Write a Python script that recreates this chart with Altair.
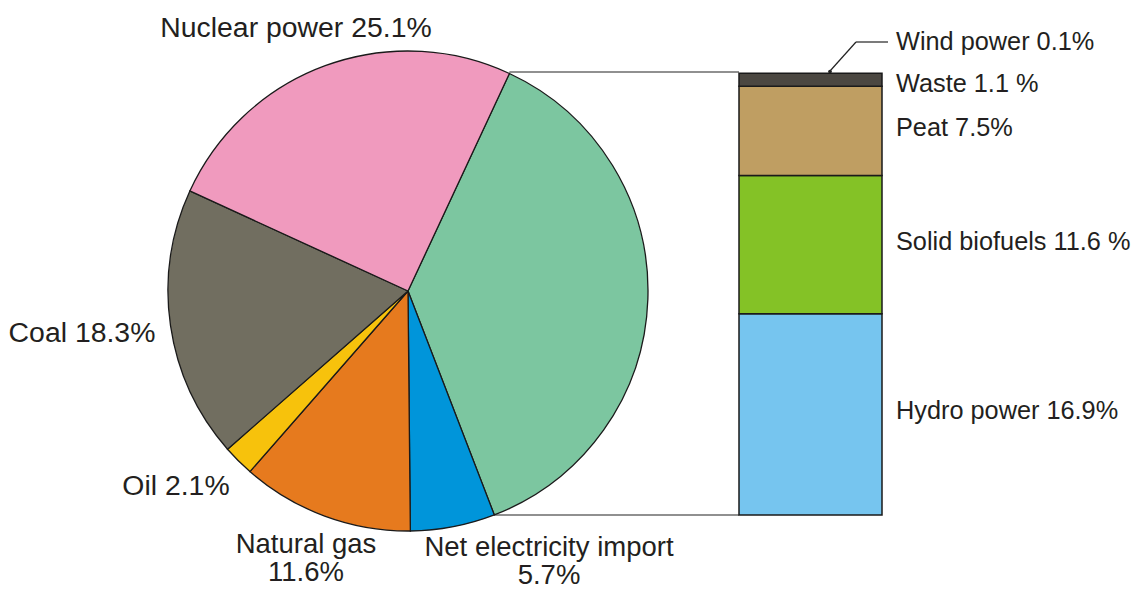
import math
import altair as alt
import pandas as pd

# ---------------- data ----------------
pie_sources = ["Renewables", "Net electricity import", "Natural gas", "Oil", "Coal", "Nuclear power"]
bar_sources = ["Hydro power", "Solid biofuels", "Peat", "Waste", "Wind power"]
bar_values = [16.9, 11.6, 7.5, 1.1, 0.1]
other_values = [5.7, 11.6, 2.1, 18.3, 25.1]
pie_values = [round(sum(bar_values), 1)] + other_values

pie_colors = ["#7CC6A0", "#0095DA", "#E67A1E", "#F7C20C", "#716E60", "#F09ABE"]
bar_colors = ["#76C5EF", "#84C226", "#BF9E62", "#4B4741", "#222222"]

# ---------------- layout ----------------
CX, CY, R = 400, 283, 240          # pie centre / radius (canvas px)
START = math.radians(25)           # start angle of first slice
BAR_X0, BAR_X1 = 731, 874
BAR_TOP, BAR_BOT = 64, 507
FONT = "Liberation Sans"
FS_PIE = 28.4
FS_LOW = 27.5
FS_BAR = 25.3
LAB_X = 888
TXT = "#231F20"

total = sum(pie_values)
ren = pie_values[0]

pie_df = pd.DataFrame({"source": pie_sources, "value": pie_values, "order": list(range(len(pie_sources)))})

cum = [0.0]
for v in bar_values:
    cum.append(cum[-1] + v)
bar_df = pd.DataFrame({
    "source": bar_sources,
    "value": bar_values,
    "y0": cum[:-1],
    "y1": cum[1:],
})
bar_df["mid"] = (bar_df["y0"] + bar_df["y1"]) / 2
bar_df["label"] = ["Hydro power 16.9%", "Solid biofuels 11.6 %", "Peat 7.5%", "Waste 1.1 %", "Wind power 0.1%"]

color_scale = alt.Scale(domain=pie_sources + bar_sources, range=pie_colors + bar_colors)
y_scale = alt.Scale(domain=[0, ren], range=[BAR_BOT, BAR_TOP], zero=False, nice=False)

pie = alt.Chart(pie_df).mark_arc(outerRadius=R, stroke="#1A1A1A", strokeWidth=1.3).encode(
    theta=alt.Theta("value:Q", stack=True, scale=alt.Scale(domain=[0, total], range=[START, START + 2 * math.pi])),
    color=alt.Color("source:N", scale=color_scale, legend=None),
    order=alt.Order("order:Q"),
    x=alt.value(CX),
    y=alt.value(CY),
)

bar = alt.Chart(bar_df[bar_df["source"] != "Wind power"]).mark_rect(stroke="#1A1A1A", strokeWidth=1.5).encode(
    y=alt.Y("y0:Q", scale=y_scale, axis=None),
    y2="y1:Q",
    x=alt.value(BAR_X0),
    x2=alt.value(BAR_X1),
    color=alt.Color("source:N", scale=color_scale, legend=None),
)

# connector lines from pie wedge edges to the bar
ang_top = START
ang_bot = START + 2 * math.pi * ren / total
x_top = CX + R * math.sin(ang_top)
x_bot = CX + R * math.sin(ang_bot)
conn_df = pd.DataFrame({"yv": [ren, 0.0], "xs": [x_top, x_bot]})
conn = alt.Chart(conn_df).mark_rule(color="#222", strokeWidth=1.2).encode(
    y=alt.Y("yv:Q", scale=y_scale, axis=None),
    x=alt.X("xs:Q", scale=None),
    x2=alt.value(BAR_X0),
)

# bar labels (except wind)
lab_df = bar_df[bar_df["source"].isin(["Hydro power", "Solid biofuels", "Peat"])]
bar_labels = alt.Chart(lab_df).mark_text(align="left", baseline="middle", font=FONT, fontSize=FS_BAR, color=TXT, dy=-3).encode(
    y=alt.Y("mid:Q", scale=y_scale, axis=None), x=alt.value(LAB_X), text="label:N")
waste_label = alt.Chart(bar_df[bar_df["source"] == "Waste"]).mark_text(align="left", baseline="middle", font=FONT, fontSize=FS_BAR, color=TXT, dy=4).encode(
    y=alt.Y("mid:Q", scale=y_scale, axis=None), x=alt.value(LAB_X), text="label:N")

one = pd.DataFrame({"a": [0]})

def label(text, x, y, align="center", fs=FS_PIE):
    return alt.Chart(one).mark_text(align=align, baseline="middle", font=FONT, fontSize=fs, color=TXT).encode(
        x=alt.value(x), y=alt.value(y), text=alt.value(text))

wind_label = label("Wind power 0.1%", LAB_X, 34, align="left", fs=FS_BAR)
lead_df = pd.DataFrame({"x1": [822, 848], "y1": [63, 34], "x2": [848, 880], "y2": [34, 34]})
wind_lead = alt.Chart(lead_df).mark_rule(color="#222", strokeWidth=1.2).encode(
    x=alt.X("x1:Q", scale=None), y=alt.Y("y1:Q", scale=None),
    x2="x2:Q", y2="y2:Q")
wind_dot = alt.Chart(one).mark_circle(color="#222", size=14, opacity=1).encode(
    x=alt.value(822), y=alt.value(63.5))

pie_labels = [
    label("Nuclear power 25.1%", 288, 20),
    label("Coal 18.3%", 74, 325),
    label("Oil 2.1%", 168, 478),
    label("Natural gas", 298, 537, fs=FS_LOW),
    label("11.6%", 298, 565, fs=FS_LOW),
    label("Net electricity import", 541, 540, fs=FS_LOW),
    label("5.7%", 541, 568, fs=FS_LOW),
]

chart = alt.layer(
    pie, conn, bar, bar_labels, waste_label,
    wind_lead, wind_dot, wind_label, *pie_labels
).resolve_scale(y="independent", x="independent").properties(
    width=1126, height=584, autosize="none", padding=0
).configure_view(stroke=None)

chart.save("out.html", embed_options={"renderer": "svg", "actions": False})
